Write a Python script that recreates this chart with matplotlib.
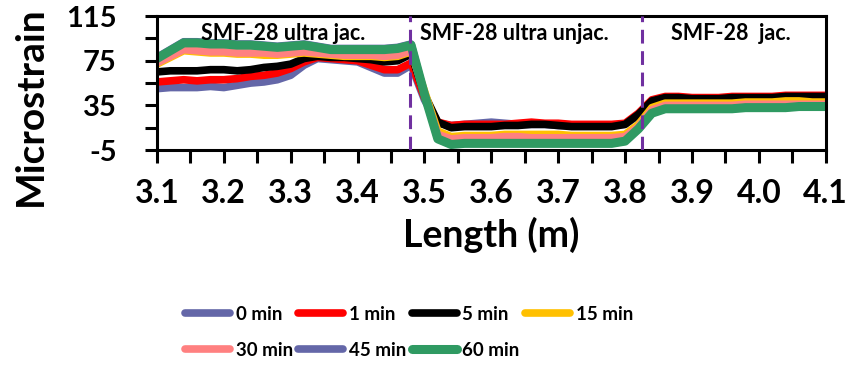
import numpy as np
import matplotlib.pyplot as plt
from matplotlib.ticker import FixedLocator

plt.rcParams['font.family'] = ['Lato', 'DejaVu Sans']
plt.rcParams['font.weight'] = 'bold'

# fibre position along the sensor (m)
length = np.round(np.arange(3.10, 4.101, 0.02), 2)

strain_0 = [50, 51, 51, 51, 52, 51, 53, 55, 56, 58, 62, 71, 77, 76, 75, 74, 69, 64, 64, 71,
            40, 19, 17, 18, 19, 20, 19, 18, 18, 18, 17, 17, 17, 17, 17, 18, 26, 38, 41, 41,
            40, 40, 40, 41, 41, 41, 41, 42, 42, 42, 42]
strain_1 = [56, 57, 58, 57, 58, 58, 59, 61, 62, 64, 68, 74, 78, 77, 76, 75, 71, 67, 67, 73,
            42, 20, 17, 18, 18, 18, 18, 19, 20, 19, 19, 18, 18, 18, 18, 19, 28, 40, 43, 43,
            42, 42, 42, 43, 43, 43, 43, 44, 44, 44, 44]
strain_5 = [65, 66, 66, 66, 67, 67, 66, 67, 69, 70, 72, 77, 79, 78, 78, 77, 76, 74, 75, 81,
            45, 20, 15, 16, 16, 16, 17, 17, 18, 18, 17, 16, 16, 16, 16, 18, 27, 39, 42, 42,
            41, 41, 41, 42, 42, 42, 42, 43, 43, 43, 43]
strain_15 = [72, 78, 84, 83, 82, 82, 81, 81, 80, 80, 81, 82, 81, 80, 79, 79, 79, 78, 79, 83,
             48, 12, 7, 8, 8, 8, 9, 9, 9, 9, 9, 8, 8, 8, 8, 9, 18, 33, 37, 37,
             37, 37, 37, 37, 38, 38, 38, 39, 39, 38, 38]
strain_30 = [73, 79, 85, 84, 83, 83, 82, 82, 82, 81, 82, 83, 82, 81, 80, 80, 80, 79, 80, 84,
             46, 9, 5, 6, 6, 6, 7, 7, 6, 6, 6, 6, 6, 6, 6, 7, 16, 31, 35, 35,
             35, 35, 35, 35, 36, 36, 36, 36, 36, 36, 36]
strain_45 = [78, 85, 92, 92, 91, 91, 90, 90, 89, 88, 89, 90, 88, 86, 86, 86, 86, 86, 87, 90,
             45, 5, 0, 1, 1, 1, 1, 1, 1, 1, 1, 1, 1, 1, 1, 3, 14, 28, 32, 32,
             32, 32, 32, 32, 33, 33, 33, 33, 34, 34, 34]
strain_60 = [77, 84, 91, 91, 90, 90, 89, 89, 88, 87, 88, 89, 87, 85, 85, 85, 85, 85, 86, 89,
             45, 5, 0, 1, 1, 1, 1, 1, 1, 1, 1, 1, 1, 1, 1, 3, 14, 28, 32, 32,
             32, 32, 32, 32, 33, 33, 33, 33, 34, 34, 34]

labels = ['0 min', '1 min', '5 min', '15 min', '30 min', '45 min', '60 min']
series = [strain_0, strain_1, strain_5, strain_15, strain_30, strain_45, strain_60]
colors = ['#6467A8', '#FF0000', '#000000', '#FFC000', '#FF8080', '#6467A8', '#2F9A62']
widths = [5.5, 5.5, 5.5, 5.5, 5.5, 5.5, 6.5]

boundaries = [3.478, 3.826]
sections = ['SMF-28 ultra jac.', 'SMF-28 ultra unjac.', 'SMF-28  jac.']
section_x = [3.288, 3.635, 3.958]

xticks = np.round(np.arange(3.1, 4.11, 0.1), 1)
yticks = [-5, 35, 75, 115]

fig = plt.figure(figsize=(8.53, 3.66), dpi=100)
ax = fig.add_axes([0.184, 0.59, 0.784, 0.366])

lines = []
for y, lab, c, w in zip(series, labels, colors, widths):
    ln, = ax.plot(length, y, color=c, lw=w, label=lab, solid_capstyle='round',
                  solid_joinstyle='round')
    lines.append(ln)

for b in boundaries:
    ax.axvline(b, color='#7030A0', lw=2.2, ls=(0, (4.5, 2.5)), zorder=5)

for txt, xs in zip(sections, section_x):
    ax.text(xs, 99.5, txt, ha='center', va='center', fontsize=15.5, fontweight='bold')

ax.set_xlim(3.1, 4.1)
ax.set_ylim(-5, 115)
ax.xaxis.set_major_locator(FixedLocator(xticks))
ax.xaxis.set_minor_locator(FixedLocator(np.round(xticks[:-1] + 0.05, 2)))
ax.set_xticklabels([f'{v:.1f}' for v in xticks])
ax.yaxis.set_major_locator(FixedLocator(yticks))
ax.yaxis.set_minor_locator(FixedLocator([15, 55, 95]))
ax.set_yticklabels([str(v) for v in yticks])
ax.tick_params(axis='x', which='both', direction='out', length=9, width=2.2, labelsize=23, pad=12)
ax.tick_params(axis='y', which='both', direction='out', length=9, width=2.2, labelsize=21, pad=20)
for s in ax.spines.values():
    s.set_linewidth(2.2)

ax.set_xlabel('Length (m)', fontsize=27, fontweight='bold', labelpad=6)
fig.text(0.036, 0.71, 'Microstrain', rotation=90, ha='center', va='center',
         fontsize=28, fontweight='bold')

# column-major fill, so reorder to get four entries on the first row
order = [0, 4, 1, 5, 2, 6, 3]
fig.legend([lines[i] for i in order], [labels[i] for i in order],
           loc='upper left', bbox_to_anchor=(0.197, 0.21), ncol=4, frameon=False,
           fontsize=13.5, handlelength=2.4, handletextpad=0.3, columnspacing=0.3,
           labelspacing=1.0)

fig.savefig('out.png', dpi=100)
